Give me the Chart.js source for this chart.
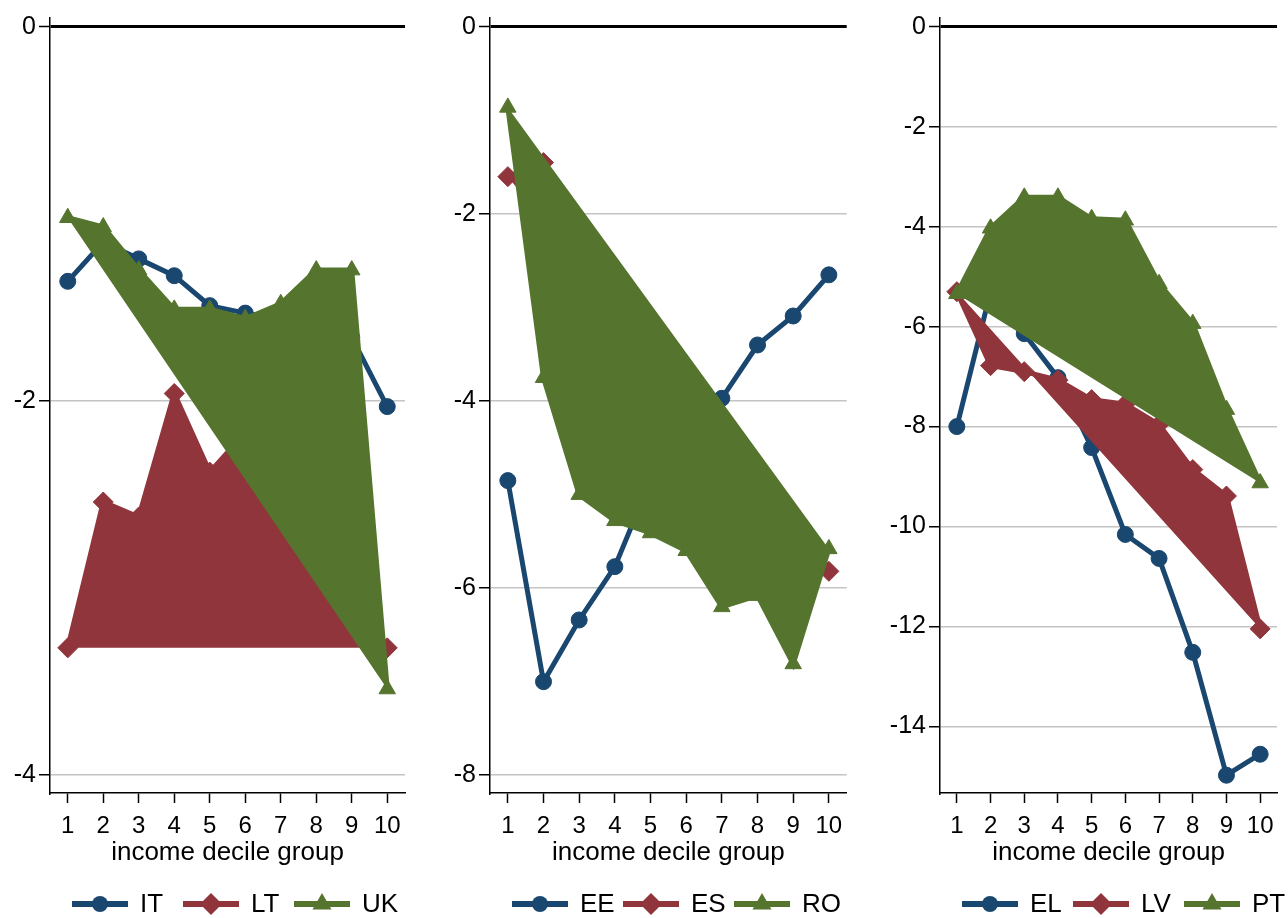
<!DOCTYPE html>
<html>
<head>
<meta charset="utf-8">
<script src="https://cdn.jsdelivr.net/npm/chart.js"></script>
<style>
  body { margin: 0; background: #fff; }
  canvas { position: absolute; top: 0; }
</style>
</head>
<body>
<canvas id="p1" width="440" height="918" style="left:0px"></canvas>
<canvas id="p2" width="440" height="918" style="left:440px"></canvas>
<canvas id="p3" width="408" height="918" style="left:880px"></canvas>
<script>
// decile groups on the x axis
var deciles = [1, 2, 3, 4, 5, 6, 7, 8, 9, 10];

// panel 1
var names1 = ["IT", "LT", "UK"];
var IT = [-1.36, -1.15, -1.24, -1.33, -1.49, -1.53, -1.56, -1.60, -1.66, -2.03];
var LT = [-3.32, -2.54, -2.62, -1.96, -2.38, -2.17, -2.68, -2.99, -3.10, -3.32];
var UK = [-1.02, -1.07, -1.30, -1.51, -1.51, -1.56, -1.48, -1.30, -1.30, -3.54];
var yTicks1 = [0, -2, -4];

// panel 2
var names2 = ["EE", "ES", "RO"];
var EE = [-4.85, -7.00, -6.34, -5.77, -4.85, -4.40, -3.97, -3.40, -3.09, -2.65];
var ES = [-1.60, -1.45, -3.30, -3.70, -3.90, -4.00, -4.20, -4.90, -5.40, -5.82];
var RO = [-0.86, -3.75, -5.00, -5.28, -5.41, -5.60, -6.20, -6.08, -6.81, -5.58];
var yTicks2 = [0, -2, -4, -6, -8];

// panel 3
var names3 = ["EL", "LV", "PT"];
var EL = [-8.00, -5.30, -6.14, -7.02, -8.42, -10.16, -10.64, -12.52, -14.98, -14.56];
var LV = [-5.30, -6.78, -6.90, -7.07, -7.46, -7.55, -7.96, -8.86, -9.39, -12.05];
var PT = [-5.34, -4.03, -3.41, -3.41, -3.84, -3.87, -5.14, -5.94, -7.66, -9.13];
var yTicks3 = [0, -2, -4, -6, -8, -10, -12, -14];

var colors = ['#1a476f', '#90353b', '#55752f'];
var styles = ['circle', 'rectRot', 'triangle'];
var radii = [8, 10, 9.5];
var font = '"Liberation Sans", Arial, sans-serif';

// draw one legend marker by hand
function drawMarker(ctx, style, r, x, y) {
    ctx.beginPath();
    if (style == 'circle') {
        ctx.arc(x, y, r, 0, Math.PI * 2);
    } else if (style == 'rectRot') {
        ctx.moveTo(x, y - r); ctx.lineTo(x + r, y); ctx.lineTo(x, y + r); ctx.lineTo(x - r, y);
    } else {
        ctx.moveTo(x, y - r);
        ctx.lineTo(x + r * 0.866, y + r * 0.5);
        ctx.lineTo(x - r * 0.866, y + r * 0.5);
    }
    ctx.closePath();
    ctx.fill();
}

// legend under each panel: line + marker + label, keys on a fixed pitch like stata
var legendPlugin = {
    id: 'stataLegend',
    afterDraw: function(chart) {
        var ctx = chart.ctx;
        var ds = chart.data.datasets;
        var lineLen = 56, gap = 12, pitch = 111;
        ctx.save();
        ctx.font = '26px ' + font;
        var x0 = chart.chartArea.left + 22;
        var y = 904;
        for (var i = 0; i < ds.length; i++) {
            var x = x0 + i * pitch;
            var c = ds[i].borderColor;
            ctx.strokeStyle = c;
            ctx.fillStyle = c;
            ctx.lineWidth = 6;
            ctx.beginPath();
            ctx.moveTo(x, y); ctx.lineTo(x + lineLen, y);
            ctx.stroke();
            drawMarker(ctx, ds[i].pointStyle, ds[i].legendRadius, x + lineLen / 2, y);
            ctx.fillStyle = '#000';
            ctx.textBaseline = 'middle';
            ctx.fillText(ds[i].label, x + lineLen + gap, y + 1);
        }
        ctx.restore();
    }
};

function makeDatasets(names, series) {
    var out = [];
    for (var i = 0; i < series.length; i++) {
        out.push({
            label: names[i],
            data: series[i],
            borderColor: colors[i],
            backgroundColor: colors[i],
            borderWidth: 5,
            pointStyle: styles[i],
            pointRadius: radii[i],
            pointBorderWidth: 1,
            pointBackgroundColor: colors[i],
            pointBorderColor: colors[i],
            legendRadius: [8, 11, 11][i],
            fill: i == 0 ? false : 'shape',   // 2nd and 3rd series come out as filled polygons
            order: 3 - i,
            tension: 0
        });
    }
    return out;
}

function createPanel(id, names, series, yTicks, yMin, yMax, yWidth, padRight) {
    var ctx = document.getElementById(id).getContext('2d');
    return new Chart(ctx, {
        type: 'line',
        data: { labels: deciles, datasets: makeDatasets(names, series) },
        options: {
            responsive: false,
            animation: false,
            layout: { padding: { top: 15, bottom: 50, left: 0, right: padRight } },
            plugins: { legend: { display: false }, tooltip: { enabled: false } },
            scales: {
                x: {
                    type: 'linear',
                    min: 0.5, max: 10.5,
                    afterBuildTicks: function(s) { s.ticks = deciles.map(function(v) { return { value: v }; }); },
                    afterFit: function(s) { s.height = 75; },
                    grid: { drawOnChartArea: false, tickLength: 10, tickColor: '#000', tickWidth: 1.5 },
                    border: { color: '#000', width: 1.5 },
                    ticks: { color: '#000', font: { family: font, size: 24 }, padding: 9, maxRotation: 0, autoSkip: false },
                    title: { display: true, text: 'income decile group', color: '#000', font: { family: font, size: 26 }, padding: 0 }
                },
                y: {
                    min: yMin, max: yMax,
                    afterBuildTicks: function(s) { s.ticks = yTicks.map(function(v) { return { value: v }; }); },
                    afterFit: function(s) { s.width = yWidth; },
                    grid: {
                        color: function(c) { return c.tick && c.tick.value == 0 ? '#000' : '#c4c4c4'; },
                        lineWidth: function(c) { return c.tick && c.tick.value == 0 ? 3 : 1.5; },
                        tickLength: 11, tickColor: '#000', tickWidth: 1.5
                    },
                    border: { color: '#000', width: 1.5 },
                    ticks: { color: '#000', font: { family: font, size: 25 }, padding: 3 }
                }
            }
        },
        plugins: [legendPlugin]
    });
}

createPanel('p1', names1, [IT, LT, UK], yTicks1, -4.096, 0.048, 50, 35);
createPanel('p2', names2, [EE, ES, RO], yTicks2, -8.19, 0.096, 50, 33.3);
createPanel('p3', names3, [EL, LV, PT], yTicks3, -15.336, 0.18, 60, 0.5);
</script>
</body>
</html>
